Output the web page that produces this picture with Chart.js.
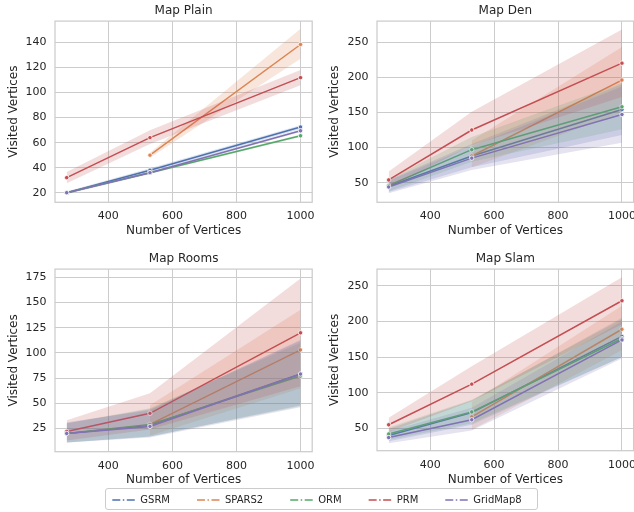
<!DOCTYPE html>
<html>
<head>
<meta charset="utf-8">
<script src="https://cdn.jsdelivr.net/npm/chart.js@4.4.1/dist/chart.umd.min.js"></script>
<style>
  html, body { margin: 0; padding: 0; background: #fff; overflow: hidden; }
  #fig { position: relative; width: 634px; height: 512px; overflow: hidden; }
  #fig canvas { position: absolute; }
  #legendBox { position: absolute; left: 105px; top: 488px; width: 431px; height: 20px;
               border: 1px solid #cccccc; border-radius: 3px; }
</style>
</head>
<body>
<div id="fig">
  <div id="legendBox"></div>
  <canvas id="plain" width="317" height="245" style="left:0px;top:0px"></canvas>
  <canvas id="den" width="340" height="245" style="left:321px;top:0px"></canvas>
  <canvas id="rooms" width="317" height="246" style="left:0px;top:248px"></canvas>
  <canvas id="slam" width="340" height="246" style="left:321px;top:248px"></canvas>
  <canvas id="legend" width="634" height="100" style="left:0px;top:468px"></canvas>
</div>
<script>
// x values and series names
const vertices = [270, 530, 1000];
const methods = ['GSRM', 'SPARS2', 'ORM', 'PRM', 'GridMap8'];
const colors = ['#4c72b0', '#dd8452', '#55a868', '#c44e52', '#8172b3'];

// tick labels
const xTicks = [400, 600, 800, 1000];
const plainTicks = [20, 40, 60, 80, 100, 120, 140];
const denTicks = [50, 100, 150, 200, 250];
const roomsTicks = [25, 50, 75, 100, 125, 150, 175];
const slamTicks = [50, 100, 150, 200, 250];

// rows follow methods order, null = no data
const plainMean = [[20, 38, 72.5], [null, 50, 138.5], [20, 36, 65.5], [32, 64, 112], [20, 36, 69.5]];
const plainLow  = [[19, 36.5, 71], [null, 48, 127], [19, 35, 64.5], [27.5, 59, 106], [19, 35, 68.5]];
const plainHigh = [[21, 39.5, 74], [null, 52, 151], [21, 37, 66.5], [36.5, 70, 118], [21, 37, 70.5]];

const denMean = [[45, 88, 154], [null, 88, 196], [46, 97, 158], [54, 125, 220], [44, 85, 147]];
const denLow  = [[37, 72, 118], [null, 72, 150], [38, 80, 126], [43, 103, 172], [35, 68, 107]];
const denHigh = [[54, 105, 190], [null, 110, 243], [55, 115, 192], [66, 151, 268], [53, 102, 187]];

const roomsMean = [[20, 28, 79], [null, 29, 103], [20, 29, 77], [22, 40, 120], [20, 27, 79]];
const roomsLow  = [[11, 17, 48], [null, 18, 65], [11, 17, 47], [13, 24, 67], [11, 16, 46]];
const roomsHigh = [[30, 44, 112], [null, 48, 143], [30, 45, 110], [33, 60, 174], [31, 43, 113]];

const slamMean = [[40, 72, 179], [null, 66, 189], [42, 73, 176], [55, 112, 229], [37, 62, 174]];
const slamLow  = [[32, 55, 150], [null, 48, 160], [34, 57, 150], [45, 88, 196], [29, 47, 148]];
const slamHigh = [[49, 89, 205], [null, 87, 222], [51, 90, 203], [65, 137, 262], [46, 79, 200]];

const legendDash = [8, 2.5, 1.5, 2.5];

Chart.defaults.font.family = '"DejaVu Sans", sans-serif';
Chart.defaults.color = '#262626';

function points(row) {
    return vertices.map((v, i) => ({x: v, y: row[i]})).filter(p => p.y !== null);
}

function fade(hex, a) {
    const n = parseInt(hex.slice(1), 16);
    return `rgba(${n >> 16}, ${(n >> 8) & 255}, ${n & 255}, ${a})`;
}

// box around the plot area like the seaborn spines
const frame = {
    id: 'frame',
    afterDatasetsDraw(chart) {
        const a = chart.chartArea, ctx = chart.ctx;
        ctx.save();
        ctx.strokeStyle = '#cccccc';
        ctx.lineWidth = 1.25;
        ctx.strokeRect(a.left, a.top, a.right - a.left, a.bottom - a.top);
        ctx.restore();
    }
};

function drawMap(id, title, mean, low, high, yTicks, yMin, yMax, box) {
    const datasets = [];
    let order = 100;
    methods.forEach((name, s) => {
        datasets.push({data: points(high[s]), borderWidth: 0, pointRadius: 0, fill: false, order: order--});
        datasets.push({data: points(low[s]), borderWidth: 0, pointRadius: 0, fill: '-1',
                       backgroundColor: fade(colors[s], 0.2), order: order--});
        datasets.push({label: name, data: points(mean[s]), borderColor: colors[s], borderWidth: 1.5,
                       pointRadius: 2.2, pointBackgroundColor: colors[s], pointBorderColor: '#ffffff',
                       pointBorderWidth: 0.8, fill: false, order: order--});
    });

    new Chart(document.getElementById(id), {
        type: 'line',
        data: {datasets: datasets},
        options: {
            responsive: false,
            animation: false,
            events: [],
            layout: {padding: {left: 0, right: box.right, top: 0, bottom: 0}},
            plugins: {
                legend: {display: false},
                tooltip: {enabled: false},
                title: {display: true, text: title, fullSize: false, color: '#262626',
                        font: {size: 12, weight: 'normal'}, padding: {top: 4, bottom: 2.7}}
            },
            scales: {
                x: {
                    type: 'linear', min: 233.5, max: 1036.5,
                    afterBuildTicks: s => { s.ticks = xTicks.map(v => ({value: v})); },
                    afterFit: s => { s.height = box.xh; s.paddingLeft = 0; s.paddingRight = 0; },
                    ticks: {padding: 7.5, maxRotation: 0, autoSkip: false, font: {size: 11},
                            callback: v => String(v)},
                    grid: {color: '#cccccc', drawTicks: false},
                    border: {display: false},
                    title: {display: true, text: 'Number of Vertices', font: {size: 12}, padding: {top: 0, bottom: 7}}
                },
                y: {
                    min: yMin, max: yMax,
                    afterBuildTicks: s => { s.ticks = yTicks.map(v => ({value: v})); },
                    afterFit: s => { s.width = box.yw; s.paddingTop = 0; s.paddingBottom = 0; },
                    ticks: {padding: 8.5, autoSkip: false, font: {size: 11}, callback: v => String(v)},
                    grid: {color: '#cccccc', drawTicks: false},
                    border: {display: false},
                    title: {display: true, text: 'Visited Vertices', font: {size: 12}, padding: {top: 7, bottom: 0}}
                }
            }
        },
        plugins: [frame]
    });
}

drawMap('plain', 'Map Plain', plainMean, plainLow, plainHigh, plainTicks, 12.3, 157.2, {yw: 55, right: 4.5, xh: 42.7});
drawMap('den', 'Map Den', denMean, denLow, denHigh, denTicks, 22.2, 279.8, {yw: 56, right: 27.4, xh: 42.7});
drawMap('rooms', 'Map Rooms', roomsMean, roomsLow, roomsHigh, roomsTicks, 1.85, 183.3, {yw: 55, right: 4.7, xh: 42.3});
drawMap('slam', 'Map Slam', slamMean, slamLow, slamHigh, slamTicks, 18.6, 273.4, {yw: 56, right: 27.4, xh: 43.3});

// shared legend under the four plots
new Chart(document.getElementById('legend'), {
    type: 'line',
    data: {
        datasets: methods.map((name, s) => ({
            label: name, data: [], borderColor: colors[s], backgroundColor: colors[s], borderWidth: 1.5
        }))
    },
    options: {
        responsive: false,
        animation: false,
        events: [],
        scales: {x: {display: false}, y: {display: false}},
        plugins: {
            tooltip: {enabled: false},
            legend: {
                position: 'top',
                maxHeight: 100,
                labels: {
                    usePointStyle: true, pointStyle: 'line', pointStyleWidth: 23,
                    font: {size: 10}, color: '#262626', padding: 27,
                    generateLabels: chart => Chart.defaults.plugins.legend.labels.generateLabels(chart)
                        .map((item, i) => ({...item, strokeStyle: colors[i], lineWidth: 1.5, lineDash: legendDash}))
                }
            }
        }
    }
});
</script>
</body>
</html>
